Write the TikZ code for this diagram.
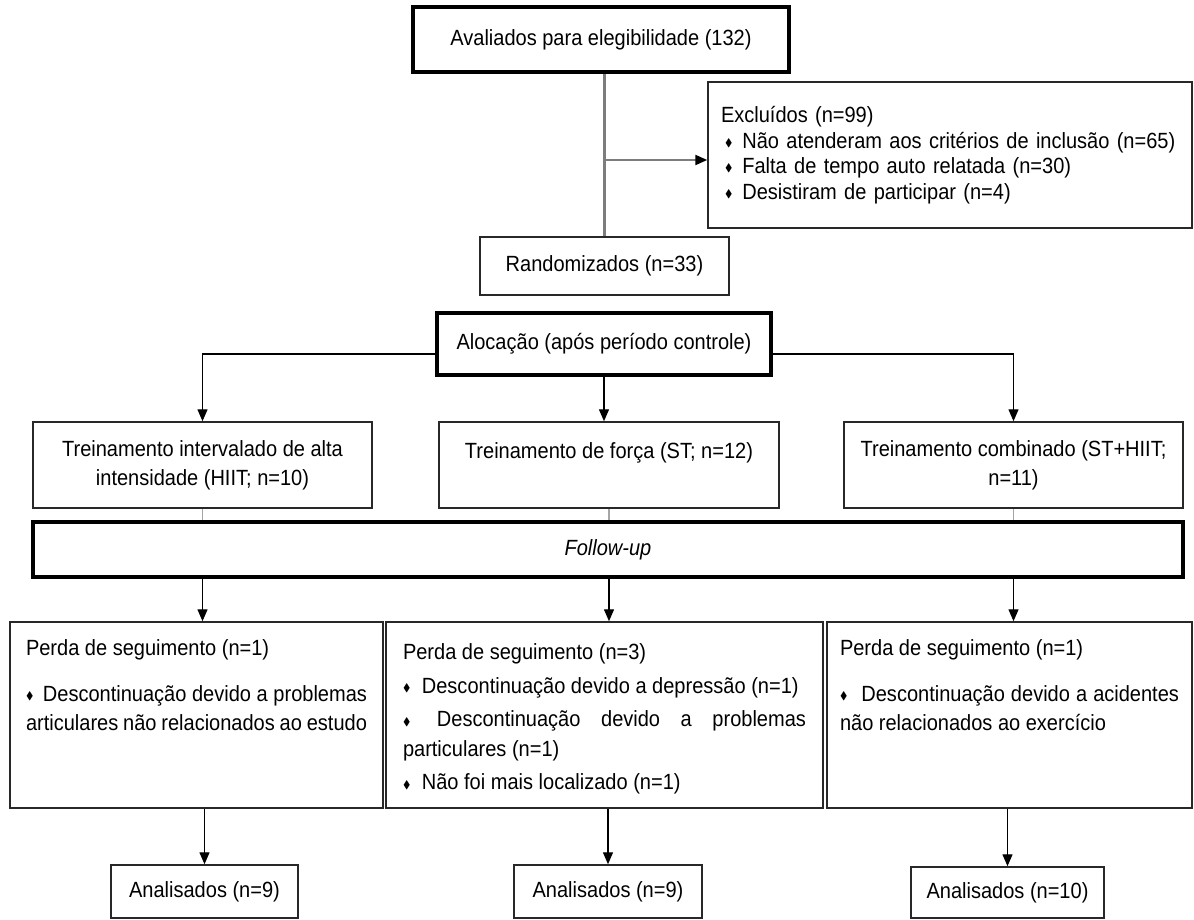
\documentclass[tikz,border=0pt]{standalone}
\usepackage{amssymb}
\usepackage{graphicx}
\usepackage{fontspec}
\setmainfont[FakeStretch=0.91]{Liberation Sans}
\usetikzlibrary{arrows.meta,calc}
\definecolor{boxline}{RGB}{40,40,40}
\definecolor{trunkgray}{RGB}{125,125,125}
\definecolor{stubgray}{RGB}{165,165,165}
\newcommand{\dbul}{\raisebox{0.15ex}{\scalebox{0.5}{$\blacklozenge$}}}
\tikzset{
  stage/.style={rectangle, draw=boxline, line width=1.5pt, fill=white,
                inner sep=0pt, align=center,
                font=\fontsize{22}{29}\selectfont},
  keystage/.style={stage, draw=black, line width=4pt},
  listbox/.style={stage, align=left, inner xsep=13pt,
                  font=\fontsize{22}{25.5}\selectfont},
  lossbox/.style={stage, font=\fontsize{22}{29.5}\selectfont},
  arrow/.style={-{Triangle[length=12pt,width=10pt]}, line width=1.4pt, draw=black},
  trunk/.style={line width=2.2pt, draw=trunkgray},
  stub/.style={line width=1.2pt, draw=stubgray}
}
\begin{document}
\begin{tikzpicture}[x=1pt, y=-1pt]
\useasboundingbox[fill=white] (0,0) rectangle (1194,920);
\node[keystage, minimum width=376pt, minimum height=65pt] (aval) at (601,39.5)
  {Avaliados para elegibilidade (132)};
\node[listbox, text width=458pt, minimum height=146pt] (excl) at (950,155)
  {Excluídos (n=99)\\
   \hspace*{4pt}\dbul\hspace{10pt}\mbox{Não atenderam aos critérios de inclusão (n=65)}\\
   \hspace*{4pt}\dbul\hspace{10pt}Falta de tempo auto relatada (n=30)\\
   \hspace*{4pt}\dbul\hspace{10pt}Desistiram de participar (n=4)};
\node[stage, minimum width=249pt, minimum height=58pt] (rand) at (604.5,266)
  {Randomizados (n=33)};
\node[keystage, minimum width=334pt, minimum height=62pt] (aloc) at (604,344)
  {Alocação (após período controle)};
\node[stage, minimum width=339pt, minimum height=86pt] (hiit) at (202.5,465)
  {Treinamento intervalado de alta\\intensidade (HIIT; n=10)};
\node[stage, minimum width=340pt, minimum height=86pt] (st) at (609,465)
  {Treinamento de força (ST; n=12)\\\mbox{}};
\node[stage, minimum width=339pt, minimum height=86pt] (comb) at (1013.5,465)
  {Treinamento combinado (ST+HIIT;\\n=11)};
\node[keystage, minimum width=1150pt, minimum height=55pt] (fu) at (608,549.5)
  {\itshape Follow-up};
\node[lossbox, inner xsep=16pt] (perda1) at (196.5,715)
  {\parbox[c][186pt][t]{341pt}{\vspace*{18pt}Perda de seguimento (n=1)\par\vspace{16pt}%
   \makebox[\linewidth][s]{\dbul\hspace{4pt} Descontinuação devido a problemas}\\
   articulares não relacionados ao estudo}};
\node[lossbox, inner xsep=17pt] (perda2) at (604.5,715)
  {\parbox[c][186pt][t]{403pt}{\setlength{\parskip}{4pt}\vspace*{18pt}%
   Perda de seguimento (n=3)\par
   \dbul\hspace{6pt} Descontinuação devido a depressão (n=1)\par
   \makebox[\linewidth][s]{\dbul\hspace{6pt} Descontinuação devido a problemas}\\
   particulares (n=1)\par
   \dbul\hspace{6pt} Não foi mais localizado (n=1)}};
\node[lossbox, inner xsep=13pt] (perda3) at (1009.5,715)
  {\parbox[c][186pt][t]{339pt}{\vspace*{18pt}Perda de seguimento (n=1)\par\vspace{16pt}%
   \makebox[\linewidth][s]{\dbul\hspace{8pt} Descontinuação devido a acidentes}\\
   não relacionados ao exercício}};
\node[stage, minimum width=187pt, minimum height=53pt] (anal1) at (204.5,891.5)
  {Analisados (n=9)};
\node[stage, minimum width=188pt, minimum height=53pt] (anal2) at (608,891.5)
  {Analisados (n=9)};
\node[stage, minimum width=193pt, minimum height=51pt] (anal3) at (1007.5,892.5)
  {Analisados (n=10)};
\coordinate (exclin) at ([yshift=-5pt]excl.west);
\coordinate (alocl) at ([yshift=-10pt]aloc.west);
\coordinate (alocr) at ([yshift=-10pt]aloc.east);
\draw[trunk] (aval.south -| rand.north) -- (rand.north);
\draw[trunk, -{Triangle[length=12pt,width=10pt,color=black]}] (exclin -| rand.north) -- (exclin);
\draw[arrow] (alocl) -| (hiit.north);
\draw[arrow] (aloc.south) -- (aloc.south |- st.north);
\draw[arrow] (alocr) -| (comb.north);
\foreach \grp/\loss/\res in {hiit/perda1/anal1, st/perda2/anal2, comb/perda3/anal3} {
  \draw[stub] (\grp.south) -- (\grp.south |- fu.north);
  \draw[arrow] (\grp.south |- fu.south) -- (\grp.south |- \loss.north);
  \draw[arrow] (\res |- \loss.south) -- (\res.north);
}
\end{tikzpicture}
\end{document}
